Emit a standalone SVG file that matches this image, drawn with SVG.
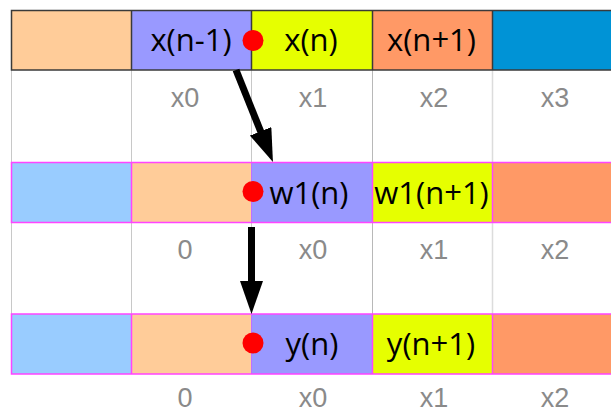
<svg xmlns="http://www.w3.org/2000/svg" width="611" height="412" viewBox="0 0 611 412">
<style>
.grid{stroke:#c8c8c8;stroke-width:1}
.r1{stroke:#3a3a3a;stroke-width:1.5}
.r2{stroke:#ff44ff;stroke-width:1.5}
.lbl{font-family:"Open Sans","Noto Sans",sans-serif;font-size:31px;fill:#000;text-anchor:middle}
.idx{font-family:"Liberation Sans",Arial,sans-serif;font-size:27px;fill:#8a8a8a;text-anchor:middle}
.dot{fill:#ff0000}
.arr{stroke:#000;stroke-width:7;fill:none}
</style>
<defs>
<marker id="ah" markerUnits="userSpaceOnUse" viewBox="0 0 33 23" markerWidth="33" markerHeight="23" refX="13" refY="11.5" orient="auto">
<path d="M0,0 L33,11.5 L0,23 Z" fill="#000"/>
</marker>
</defs>
<rect width="611" height="412" fill="#fff"/>
<g id="grid">
<line class="grid" x1="11.5" y1="70" x2="11.5" y2="374"/>
<line class="grid" x1="131.5" y1="70" x2="131.5" y2="374"/>
<line class="grid" x1="251.5" y1="70" x2="251.5" y2="374"/>
<line x1="372.5" y1="70" x2="372.5" y2="374" stroke="#b8b8b8"/>
<line x1="492.5" y1="70" x2="492.5" y2="374" stroke="#dcdcdc" stroke-width="1.5"/>
</g>
<g id="row1">
<rect x="11" y="10" width="120.5" height="60" fill="#ffcc99"/>
<rect x="131.5" y="10" width="120" height="60" fill="#9999ff"/>
<rect x="251.5" y="10" width="121" height="60" fill="#e6ff00"/>
<rect x="372.5" y="10" width="120" height="60" fill="#ff9966"/>
<rect x="492.5" y="10" width="120" height="60" fill="#0093d6"/>
<line class="r1" x1="131.5" y1="10" x2="131.5" y2="70"/>
<line class="r1" x1="251.5" y1="10" x2="251.5" y2="70"/>
<line class="r1" x1="372.5" y1="10" x2="372.5" y2="70"/>
<line class="r1" x1="492.5" y1="10" x2="492.5" y2="70"/>
<rect class="r1" x="11.5" y="10.5" width="605" height="59.5" fill="none"/>
<circle class="dot" cx="253" cy="40.5" r="10.5"/>
<text class="lbl" x="191" y="51">x(n-1)</text>
<text class="lbl" x="311" y="51">x(n)</text>
<text class="lbl" x="431.5" y="51">x(n+1)</text>
<text class="idx" x="185" y="107">x0</text>
<text class="idx" x="313" y="107">x1</text>
<text class="idx" x="434" y="107">x2</text>
<text class="idx" x="555" y="107">x3</text>
</g>
<g id="row2">
<rect x="11" y="162.5" width="120.5" height="60" fill="#99ccff"/>
<rect x="131.5" y="162.5" width="120" height="60" fill="#ffcc99"/>
<rect x="251.5" y="162.5" width="121" height="60" fill="#9999ff"/>
<rect x="372.5" y="162.5" width="120" height="60" fill="#e6ff00"/>
<rect x="492.5" y="162.5" width="120" height="60" fill="#ff9966"/>
<line class="r2" x1="131.5" y1="162.5" x2="131.5" y2="222.5" stroke-width="1"/>
<line x1="251.5" y1="162.5" x2="251.5" y2="222.5" stroke="#c070ff" stroke-width="1"/>
<line class="r2" x1="372.5" y1="162.5" x2="372.5" y2="222.5" stroke-width="1"/>
<line class="r2" x1="492.5" y1="162.5" x2="492.5" y2="222.5" stroke-width="1"/>
<rect class="r2" x="11.5" y="162.5" width="605" height="60" fill="none"/>
<circle class="dot" cx="253" cy="191.5" r="10.5"/>
<text class="lbl" x="309" y="203.5">w1(n)</text>
<text class="lbl" x="431.5" y="203.5">w1(n+1)</text>
<text class="idx" x="185" y="259">0</text>
<text class="idx" x="313" y="259">x0</text>
<text class="idx" x="434" y="259">x1</text>
<text class="idx" x="555" y="259">x2</text>
</g>
<g id="row3">
<rect x="11" y="314" width="120.5" height="60" fill="#99ccff"/>
<rect x="131.5" y="314" width="120" height="60" fill="#ffcc99"/>
<rect x="251.5" y="314" width="121" height="60" fill="#9999ff"/>
<rect x="372.5" y="314" width="120" height="60" fill="#e6ff00"/>
<rect x="492.5" y="314" width="120" height="60" fill="#ff9966"/>
<line class="r2" x1="131.5" y1="314" x2="131.5" y2="374" stroke-width="1"/>
<line x1="251.5" y1="314" x2="251.5" y2="374" stroke="#c070ff" stroke-width="1"/>
<line class="r2" x1="372.5" y1="314" x2="372.5" y2="374" stroke-width="1"/>
<line class="r2" x1="492.5" y1="314" x2="492.5" y2="374" stroke-width="1"/>
<rect class="r2" x="11.5" y="314" width="605" height="60" fill="none"/>
<circle class="dot" cx="253" cy="343" r="10.5"/>
<text class="lbl" x="312" y="354.5">y(n)</text>
<text class="lbl" x="431" y="354.5">y(n+1)</text>
<text class="idx" x="185" y="407">0</text>
<text class="idx" x="313" y="407">x0</text>
<text class="idx" x="434" y="407">x1</text>
<text class="idx" x="555" y="407">x2</text>
</g>
<g id="connectors">
<line class="arr" x1="236" y1="70" x2="265.5" y2="143.4" marker-end="url(#ah)"/>
<line class="arr" x1="251.5" y1="227" x2="251.5" y2="294" marker-end="url(#ah)"/>
</g>
</svg>
